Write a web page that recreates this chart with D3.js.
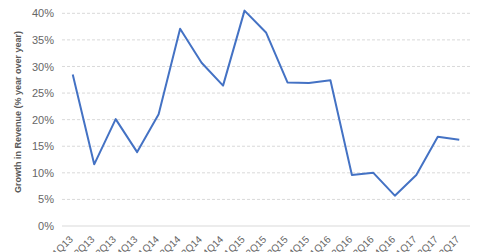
<!DOCTYPE html>
<html>
<head>
<meta charset="utf-8">
<script src="https://cdn.jsdelivr.net/npm/d3@7"></script>
<style>
  body { margin: 0; background: #fff; }
  svg { display: block; font-family: "Liberation Sans", Arial, sans-serif; }
</style>
</head>
<body>
<div id="chart"></div>
<script>
const quarters = ['1Q13','2Q13','3Q13','4Q13','1Q14','2Q14','3Q14','4Q14','1Q15','2Q15','3Q15','4Q15','1Q16','2Q16','3Q16','4Q16','1Q17','2Q17','3Q17']
const growth = [28.5, 11.6, 20.1, 13.9, 21.0, 37.1, 30.7, 26.4, 40.5, 36.4, 27.0, 26.9, 27.4, 9.6, 10.0, 5.7, 9.6, 16.8, 16.2]
const yTicks = [0, 5, 10, 15, 20, 25, 30, 35, 40]

const w = 480
const h = 252
const padLeft = 62, padRight = 470, padTop = 13.3, padBottom = 226

const svg = d3.select('#chart')
  .append('svg')
  .attr('width', w)
  .attr('height', h)

const xScale = d3.scaleBand()
  .domain(quarters)
  .range([padLeft, padRight])

const yScale = d3.scaleLinear()
  .domain([0, 40])
  .range([padBottom, padTop])

// gridlines
svg.selectAll('line.grid')
  .data(yTicks.filter(d => d > 0))
  .enter()
  .append('line')
  .attr('class', 'grid')
  .attr('x1', padLeft)
  .attr('x2', padRight)
  .attr('y1', d => yScale(d))
  .attr('y2', d => yScale(d))
  .attr('stroke', '#d9d9d9')
  .attr('stroke-width', 1)
  .attr('stroke-dasharray', '3,2')

svg.append('line')
  .attr('x1', padLeft)
  .attr('x2', padRight)
  .attr('y1', yScale(0))
  .attr('y2', yScale(0))
  .attr('stroke', '#d9d9d9')

// y labels
const yAxis = d3.axisLeft(yScale).tickValues(yTicks).tickSize(0).tickPadding(8).tickFormat(d => d + '%')
const gy = svg.append('g')
  .attr('transform', `translate(${padLeft}, 0)`)
  .call(yAxis)
gy.select('.domain').remove()
gy.selectAll('text')
  .attr('fill', '#666')
  .style('font-size', '11px')

// x labels
const xAxis = d3.axisBottom(xScale).tickSize(0).tickPadding(0)
const gx = svg.append('g')
  .attr('transform', `translate(0, ${padBottom})`)
  .call(xAxis)
gx.select('.domain').remove()
gx.selectAll('text')
  .attr('fill', '#666')
  .style('font-size', '10px')
  .attr('text-anchor', 'end')
  .attr('dy', 0)
  .attr('transform', 'translate(1, 14) rotate(-45)')

// line
const line = d3.line()
  .x((d, i) => xScale(quarters[i]) + xScale.bandwidth() / 2)
  .y(d => yScale(d))

svg.append('path')
  .datum(growth)
  .attr('d', line)
  .attr('fill', 'none')
  .attr('stroke', '#4472c4')
  .attr('stroke-width', 2)
  .attr('stroke-linejoin', 'round')

svg.append('text')
  .attr('transform', `translate(21, 112) rotate(-90)`)
  .attr('text-anchor', 'middle')
  .attr('fill', '#595959')
  .style('font-size', '9px')
  .style('font-weight', 'bold')
  .text('Growth in Revenue (% year over year)')
</script>
</body>
</html>
